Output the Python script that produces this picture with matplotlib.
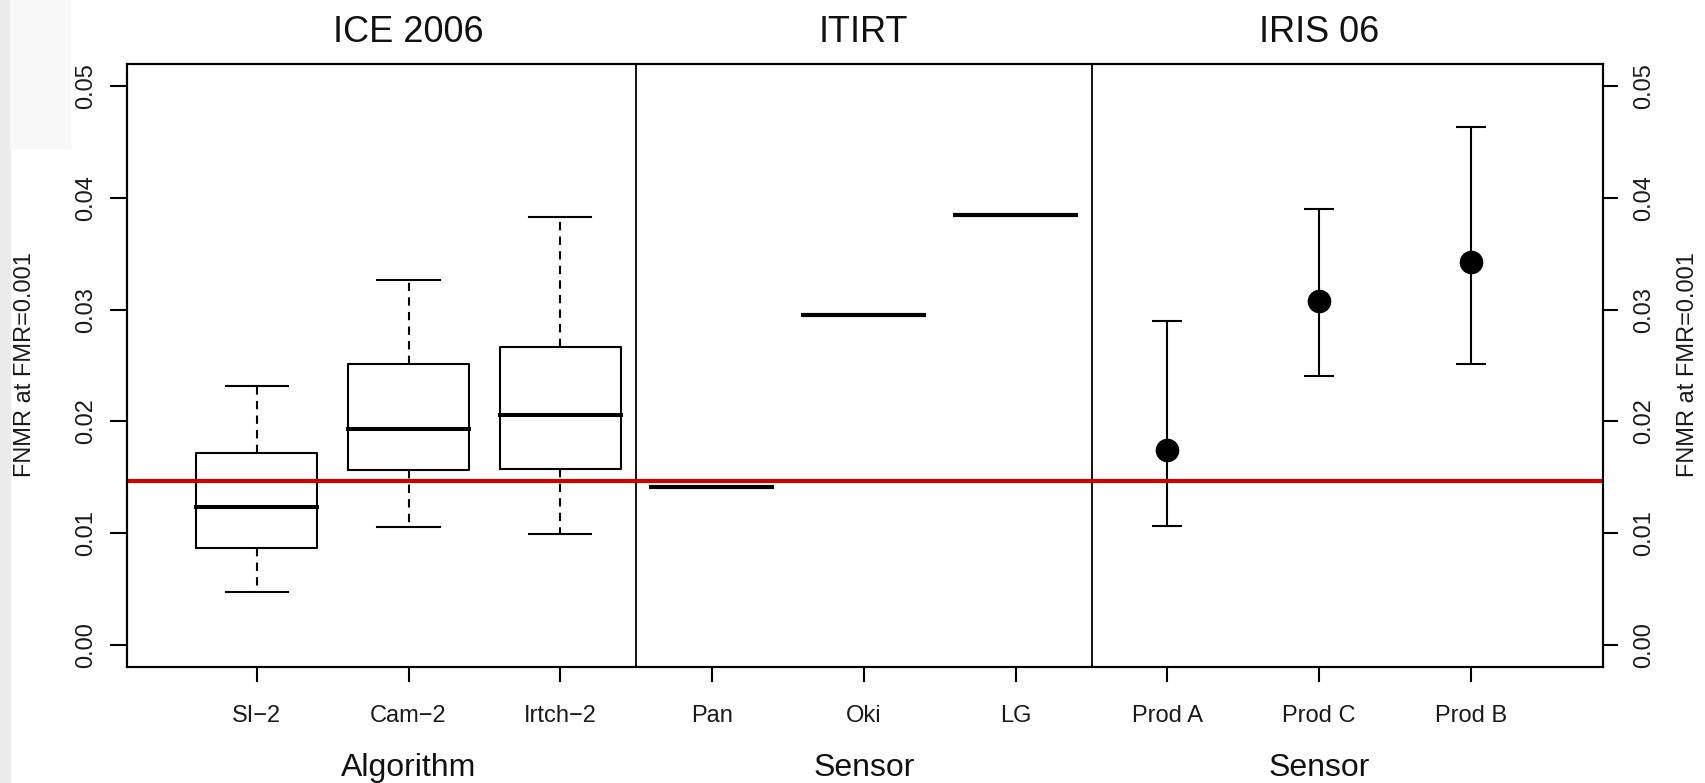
import numpy as np
import matplotlib
matplotlib.use('Agg')
import matplotlib.pyplot as plt
from matplotlib.patches import Rectangle

plt.rcParams['font.family'] = ['Liberation Sans', 'DejaVu Sans']

# panel titles and axis labels
groups = ['ICE 2006', 'ITIRT', 'IRIS 06']
group_xlabels = ['Algorithm', 'Sensor', 'Sensor']
tick_labels = ['SI\u22122', 'Cam\u22122', 'Irtch\u22122', 'Pan', 'Oki', 'LG',
               'Prod A', 'Prod C', 'Prod B']
ylabel = 'FNMR at FMR=0.001'

# ICE 2006: boxplot summaries
ice_whislo = [0.0047, 0.0105, 0.0099]
ice_q1 = [0.0087, 0.0156, 0.0157]
ice_med = [0.0123, 0.0193, 0.0206]
ice_q3 = [0.0172, 0.0251, 0.0267]
ice_whishi = [0.0232, 0.0327, 0.0383]

# ITIRT: single values
itirt_values = [0.0141, 0.0295, 0.0385]

# IRIS 06: estimate with interval
iris_values = [0.0174, 0.0308, 0.0343]
iris_lower = [0.0106, 0.0241, 0.0251]
iris_upper = [0.0290, 0.0390, 0.0464]

reference_fnmr = 0.0147
yticks = [0.00, 0.01, 0.02, 0.03, 0.04, 0.05]

W, H = 1705, 783
fig = plt.figure(figsize=(W / 100, H / 100), dpi=100)
# grey slide edge on the left
fig.patches.append(Rectangle((0, 0), 10 / W, 1, transform=fig.transFigure,
                             color='#ebebeb', zorder=-10))
fig.patches.append(Rectangle((10 / W, 1 - 148 / H), 60 / W, 148 / H,
                             transform=fig.transFigure, color='#f8f8f8', zorder=-10))
ax = fig.add_axes([127 / W, 1 - 667 / H, (1603 - 127) / W, (667 - 64) / H])

pos = np.arange(1, len(tick_labels) + 1)
ice_pos, itirt_pos, iris_pos = pos[:3], pos[3:6], pos[6:]

# boxplots
stats = [dict(med=m, q1=a, q3=b, whislo=lo, whishi=hi, fliers=[])
         for m, a, b, lo, hi in zip(ice_med, ice_q1, ice_q3, ice_whislo, ice_whishi)]
ax.bxp(stats, positions=ice_pos, widths=0.8, capwidths=0.41, showfliers=False,
       boxprops=dict(color='black', lw=1.5),
       medianprops=dict(color='black', lw=2.9, solid_capstyle='projecting'),
       whiskerprops=dict(color='black', lw=1.5, linestyle=(0, (4, 3))),
       capprops=dict(color='black', lw=1.5))

# single-value segments
ax.hlines(itirt_values, itirt_pos - 0.415, itirt_pos + 0.41, colors='black', lw=3)

# points with intervals
iris_values = np.array(iris_values)
yerr = [iris_values - np.array(iris_lower), np.array(iris_upper) - iris_values]
ax.errorbar(iris_pos, iris_values, yerr=yerr, fmt='o', color='black', ms=16,
            elinewidth=1.5, capsize=11, capthick=1.5)

ax.axhline(reference_fnmr, color='#cc0000', lw=3, zorder=10)
for xd in [3.5, 6.5]:
    ax.axvline(xd, color='black', lw=1.3)

ax.set_xlim(0.145, 9.87)
ax.set_ylim(-0.002, 0.052)
for s in ax.spines.values():
    s.set_linewidth(1.5)

ax.set_xticks(pos, tick_labels)
ax.tick_params(axis='x', length=11, width=1.5, pad=16, labelsize=17,
               labelcolor='#1a1a1a')
ylabs = [f'{v:.2f}' for v in yticks]
ax.set_yticks(yticks, ylabs, rotation=90, va='center')
ax.tick_params(axis='y', length=12, width=1.5, pad=9.5, labelsize=17,
               labelcolor='#1a1a1a')

ax2 = ax.twinx()
ax2.set_ylim(ax.get_ylim())
ax2.set_yticks(yticks, ylabs, rotation=90, va='center')
ax2.tick_params(axis='y', length=10.5, width=1.5, pad=11.5, labelsize=17,
                labelcolor='#1a1a1a')
for s in ax2.spines.values():
    s.set_linewidth(1.5)

tr = ax.get_xaxis_transform()
for x, title, xl in zip(pos[1::3], groups, group_xlabels):
    ax.text(x, 1 + 22 / 603, title, transform=tr, ha='center', va='baseline',
            fontsize=26, color='#111111')
    ax.text(x, -109 / 603, xl, transform=tr, ha='center', va='baseline',
            fontsize=23, color='#111111')

fig.text(25 / W, 1 - 365 / H, ylabel, rotation=90, ha='center', va='center',
         fontsize=17, color='#1a1a1a')
fig.text(1688 / W, 1 - 365 / H, ylabel, rotation=90, ha='center', va='center',
         fontsize=17, color='#1a1a1a')

fig.savefig('out.png', dpi=100)
